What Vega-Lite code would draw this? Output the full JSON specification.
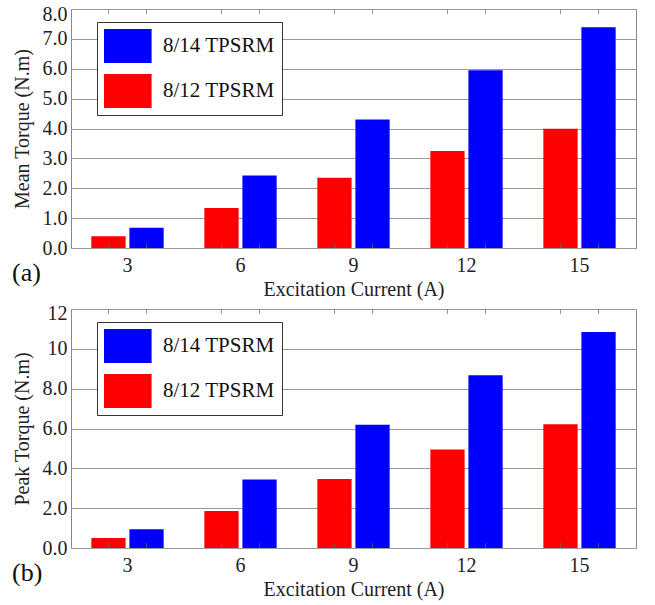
{
  "$schema": "https://vega.github.io/schema/vega-lite/v6.json",
  "padding": {"left": 11, "top": 3, "right": 5, "bottom": 5},
  "background": "white",
  "config": {
    "font": "Liberation Serif",
    "view": {"stroke": "#888", "strokeWidth": 1},
    "axis": {
      "labelFont": "Liberation Serif", "titleFont": "Liberation Serif",
      "labelFontSize": 20, "titleFontSize": 20, "titleFontWeight": "normal",
      "labelColor": "#222", "titleColor": "#222", "domain": false,
      "gridColor": "#999", "gridOpacity": 1, "gridWidth": 1, "labelOverlap": false
    },
    "axisX": {"labelAngle": 0, "ticks": false, "labelPadding": 7, "titlePadding": 4, "grid": false},
    "axisY": {"ticks": false, "grid": true, "labelPadding": 4, "titlePadding": 10}
  },
  "datasets": {
    "mean": [
      {"current": "3", "series": "8/12 TPSRM", "value": 0.39},
      {"current": "3", "series": "8/14 TPSRM", "value": 0.68},
      {"current": "6", "series": "8/12 TPSRM", "value": 1.34},
      {"current": "6", "series": "8/14 TPSRM", "value": 2.43},
      {"current": "9", "series": "8/12 TPSRM", "value": 2.35},
      {"current": "9", "series": "8/14 TPSRM", "value": 4.30},
      {"current": "12", "series": "8/12 TPSRM", "value": 3.25},
      {"current": "12", "series": "8/14 TPSRM", "value": 5.95},
      {"current": "15", "series": "8/12 TPSRM", "value": 3.99},
      {"current": "15", "series": "8/14 TPSRM", "value": 7.39}
    ],
    "peak": [
      {"current": "3", "series": "8/12 TPSRM", "value": 0.50},
      {"current": "3", "series": "8/14 TPSRM", "value": 0.94},
      {"current": "6", "series": "8/12 TPSRM", "value": 1.86},
      {"current": "6", "series": "8/14 TPSRM", "value": 3.44},
      {"current": "9", "series": "8/12 TPSRM", "value": 3.47},
      {"current": "9", "series": "8/14 TPSRM", "value": 6.19},
      {"current": "12", "series": "8/12 TPSRM", "value": 4.95},
      {"current": "12", "series": "8/14 TPSRM", "value": 8.67},
      {"current": "15", "series": "8/12 TPSRM", "value": 6.21},
      {"current": "15", "series": "8/14 TPSRM", "value": 10.85}
    ]
  },
  "bounds": "flush",
  "spacing": 61,
  "resolve": {"scale": {"color": "independent", "y": "independent"}, "legend": {"color": "independent"}},
  "vconcat": [
    {
      "width": 565, "height": 239,
      "title": {"text": "(a)", "orient": "bottom", "anchor": "start", "frame": "bounds", "offset": -39, "fontSize": 26, "fontWeight": "normal", "font": "Liberation Serif", "color": "#111"},
      "data": {"name": "mean"},
      "encoding": {
        "x": {"field": "current", "type": "ordinal", "sort": ["3", "6", "9", "12", "15"],
          "scale": {"paddingInner": 0.36, "paddingOuter": 0.18},
          "axis": {"title": "Excitation Current (A)"}},
        "xOffset": {"field": "series", "sort": ["8/12 TPSRM", "8/14 TPSRM"], "scale": {"paddingInner": 0.1}}
      },
      "layer": [
        {
          "mark": {"type": "bar"},
          "encoding": {
            "y": {"field": "value", "type": "quantitative", "scale": {"domain": [0, 8], "nice": false},
              "axis": {"title": "Mean Torque (N.m)", "values": [0, 1, 2, 3, 4, 5, 6, 7, 8], "format": ".1f",
                "labelOffset": {"condition": {"test": "datum.value == 8", "value": 5}, "value": 0}}},
            "color": {"field": "series", "type": "nominal",
              "scale": {"domain": ["8/14 TPSRM", "8/12 TPSRM"], "range": ["#0000ff", "#ff0000"]},
              "legend": {"orient": "none", "legendX": 26, "legendY": 13, "title": null, "direction": "vertical",
                "symbolType": "M-1,-1H1.8V1H-1Z", "symbolSize": 1156, "symbolStrokeWidth": 0, "symbolOpacity": 1,
                "labelFontSize": 21, "labelFont": "Liberation Serif", "labelColor": "#111", "labelOffset": 25,
                "rowPadding": 11, "padding": 7, "strokeColor": "#333", "fillColor": "white", "labelLimit": 300}}
          }
        },
        {
          "mark": {"type": "tick", "orient": "vertical", "size": 10, "thickness": 1, "clip": true, "color": "#666"},
          "encoding": {
            "y": {"datum": 0, "type": "quantitative", "axis": {"title": "Mean Torque (N.m)", "values": [0, 1, 2, 3, 4, 5, 6, 7, 8], "format": ".1f",
                "labelOffset": {"condition": {"test": "datum.value == 8", "value": 5}, "value": 0}}}
          }
        },
        {
          "mark": {"type": "tick", "orient": "vertical", "size": 10, "thickness": 1, "clip": true, "color": "#666"},
          "encoding": {
            "y": {"datum": 8, "type": "quantitative", "axis": {"title": "Mean Torque (N.m)", "values": [0, 1, 2, 3, 4, 5, 6, 7, 8], "format": ".1f",
                "labelOffset": {"condition": {"test": "datum.value == 8", "value": 5}, "value": 0}}}
          }
        }
      ]
    },
    {
      "width": 565, "height": 239,
      "title": {"text": "(b)", "orient": "bottom", "anchor": "start", "frame": "bounds", "offset": -39, "fontSize": 26, "fontWeight": "normal", "font": "Liberation Serif", "color": "#111"},
      "data": {"name": "peak"},
      "encoding": {
        "x": {"field": "current", "type": "ordinal", "sort": ["3", "6", "9", "12", "15"],
          "scale": {"paddingInner": 0.36, "paddingOuter": 0.18},
          "axis": {"title": "Excitation Current (A)"}},
        "xOffset": {"field": "series", "sort": ["8/12 TPSRM", "8/14 TPSRM"], "scale": {"paddingInner": 0.1}}
      },
      "layer": [
        {
          "mark": {"type": "bar"},
          "encoding": {
            "y": {"field": "value", "type": "quantitative", "scale": {"domain": [0, 12], "nice": false},
              "axis": {"title": "Peak Torque (N.m)", "values": [0, 2, 4, 6, 8, 10, 12], "labelExpr": "datum.value >= 10 ? format(datum.value, 'd') : format(datum.value, '.1f')",
                "labelOffset": {"condition": {"test": "datum.value == 12", "value": 4}, "value": 0}}},
            "color": {"field": "series", "type": "nominal",
              "scale": {"domain": ["8/14 TPSRM", "8/12 TPSRM"], "range": ["#0000ff", "#ff0000"]},
              "legend": {"orient": "none", "legendX": 26, "legendY": 13, "title": null, "direction": "vertical",
                "symbolType": "M-1,-1H1.8V1H-1Z", "symbolSize": 1156, "symbolStrokeWidth": 0, "symbolOpacity": 1,
                "labelFontSize": 21, "labelFont": "Liberation Serif", "labelColor": "#111", "labelOffset": 25,
                "rowPadding": 11, "padding": 7, "strokeColor": "#333", "fillColor": "white", "labelLimit": 300}}
          }
        },
        {
          "mark": {"type": "tick", "orient": "vertical", "size": 10, "thickness": 1, "clip": true, "color": "#666"},
          "encoding": {
            "y": {"datum": 0, "type": "quantitative", "axis": {"title": "Peak Torque (N.m)", "values": [0, 2, 4, 6, 8, 10, 12], "labelExpr": "datum.value >= 10 ? format(datum.value, 'd') : format(datum.value, '.1f')",
                "labelOffset": {"condition": {"test": "datum.value == 12", "value": 4}, "value": 0}}}
          }
        },
        {
          "mark": {"type": "tick", "orient": "vertical", "size": 10, "thickness": 1, "clip": true, "color": "#666"},
          "encoding": {
            "y": {"datum": 12, "type": "quantitative", "axis": {"title": "Peak Torque (N.m)", "values": [0, 2, 4, 6, 8, 10, 12], "labelExpr": "datum.value >= 10 ? format(datum.value, 'd') : format(datum.value, '.1f')",
                "labelOffset": {"condition": {"test": "datum.value == 12", "value": 4}, "value": 0}}}
          }
        }
      ]
    }
  ]
}
